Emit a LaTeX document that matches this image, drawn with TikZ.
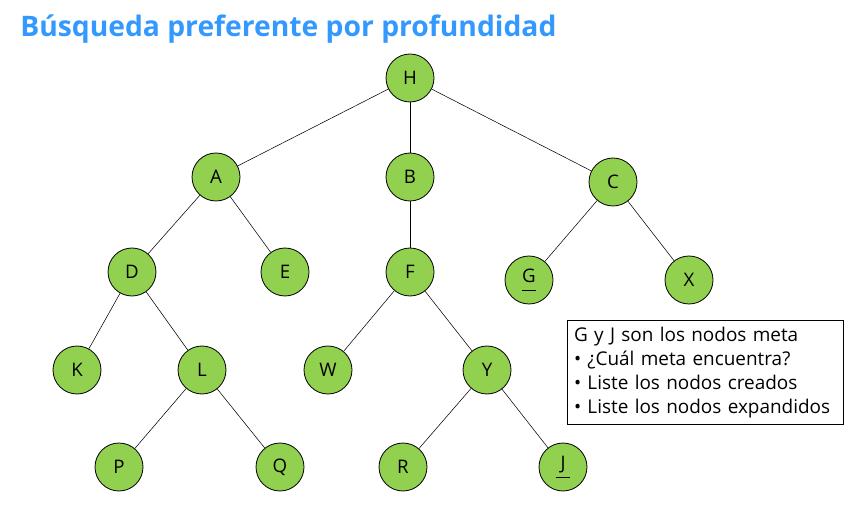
\documentclass[tikz,border=0pt]{standalone}
\usepackage{fontspec}
\setmainfont{Open Sans}
\usepackage{xcolor}
\usepackage{tikz}
\usetikzlibrary{positioning}
\definecolor{nodogreen}{HTML}{92D050}
\definecolor{titleblue}{HTML}{3399FF}
\newcommand{\meta}[1]{\underline{\makebox[0.7em]{\raisebox{0pt}[\height][4.5pt]{#1}}}}
\tikzset{
    nodo/.style={circle, draw=black, fill=nodogreen, semithick,
        minimum size=36pt, inner sep=0pt, font=\fontsize{14}{16}\selectfont},
    rama/.style={draw=black, thin}
}

\begin{document}
\begin{tikzpicture}[x=0.75pt,y=-0.75pt]
        \useasboundingbox (0,0) rectangle (864,513);
        \node[anchor=base west, text=titleblue, font=\fontsize{21.2}{25}\selectfont\bfseries, inner sep=0pt] at (20,37) (titulo) {Búsqueda preferente por profundidad};
        % arbol
        \node[nodo] at (410,78) (h) {H};
        \node[nodo] at (216,177) (a) {A};
        \node[nodo] at (410,177) (b) {B};
        \node[nodo] at (613,182) (c) {C};
        \node[nodo] at (132,272) (d) {D};
        \node[nodo] at (285,272) (e) {E};
        \node[nodo] at (410,272) (f) {F};
        \node[nodo] at (529,280) (g) {\meta{G}};
        \node[nodo] at (689,280) (x) {X};
        \node[nodo] at (77,370) (k) {K};
        \node[nodo] at (202,370) (l) {L};
        \node[nodo] at (328,370) (w) {W};
        \node[nodo] at (487,370) (y) {Y};
        \node[nodo] at (119,467) (p) {P};
        \node[nodo] at (280,467) (q) {Q};
        \node[nodo] at (403,467) (r) {R};
        \node[nodo] at (563,467) (j) {\meta{J}};
        \draw[rama] (h) -- (a);
        \draw[rama] (h) -- (b);
        \draw[rama] (h) -- (c);
        \draw[rama] (a) -- (d);
        \draw[rama] (a) -- (e);
        \draw[rama] (b) -- (f);
        \draw[rama] (c) -- (g);
        \draw[rama] (c) -- (x);
        \draw[rama] (d) -- (k);
        \draw[rama] (d) -- (l);
        \draw[rama] (f) -- (w);
        \draw[rama] (f) -- (y);
        \draw[rama] (l) -- (p);
        \draw[rama] (l) -- (q);
        \draw[rama] (y) -- (r);
        \draw[rama] (y) -- (j);
        % nota
        \node[draw=black, semithick, anchor=north west, minimum width=207pt, minimum height=77pt,
            text width=197pt, align=left, inner sep=5pt, font=\fontsize{14.2}{18}\selectfont] at (567,320) (nota)
            {G y J son los nodos meta\\
             • ¿Cuál meta encuentra?\\
             • Liste los nodos creados\\
             • Liste los nodos expandidos};
    \end{tikzpicture}
\end{document}
